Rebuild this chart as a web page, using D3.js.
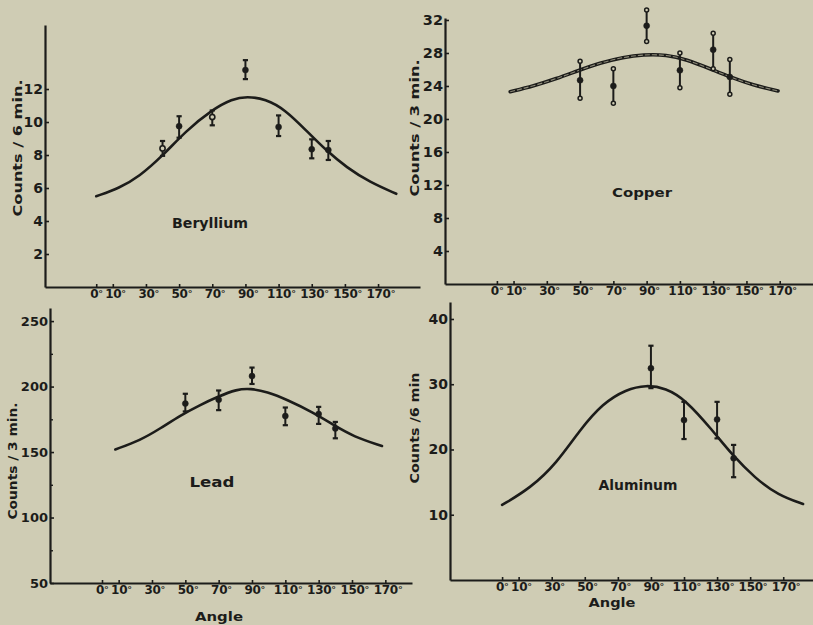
<!DOCTYPE html>
<html>
<head>
<meta charset="utf-8">
<script src="https://cdn.jsdelivr.net/npm/d3@7"></script>
<style>
  html, body { margin: 0; padding: 0; background: #cfccb4; }
  svg { display: block; }
  text { font-family: "DejaVu Sans", sans-serif; font-weight: bold; fill: #1c1c1a; }
</style>
</head>
<body>
<svg id="chart" width="813" height="625"></svg>
<script>
// Scattering angle ticks shared by all four panels (degrees)
const angleTicks = [0, 10, 30, 50, 70, 90, 110, 130, 150, 170];

// Beryllium: fitted curve [angle, counts] and measured points with error limits
const berylliumCurve = [[0, 5.5], [14, 6.0], [26, 6.7], [40, 7.95], [54, 9.45], [70, 10.75], [82, 11.4],
  [91, 11.55], [102, 11.4], [114, 10.75], [127, 9.45], [139, 8.25], [151, 7.25], [165, 6.35], [181, 5.65]];
const berylliumAngles = [40, 50, 70, 90, 110, 130, 140];
const berylliumCounts = [8.4, 9.75, 10.3, 13.15, 9.7, 8.35, 8.3];
const berylliumLow    = [7.95, 9.05, 9.8, 12.6, 9.15, 7.8, 7.7];
const berylliumHigh   = [8.85, 10.35, 10.7, 13.75, 10.4, 8.95, 8.85];
const berylliumOpen   = [true, false, true, false, false, false, false];
const berylliumTicks  = [2, 4, 6, 8, 10, 12];

// Copper
const copperCurve = [[8, 23.3], [22, 24.0], [36, 24.9], [48, 25.8], [62, 26.8], [76, 27.5], [88, 27.8],
  [102, 27.8], [114, 27.2], [128, 26.1], [140, 25.1], [154, 24.1], [169, 23.4]];
const copperAngles = [50, 70, 90, 110, 130, 140];
const copperCounts = [24.7, 24.0, 31.3, 25.9, 28.4, 25.1];
const copperLow    = [22.5, 21.9, 29.4, 23.8, 26.1, 23.0];
const copperHigh   = [27.0, 26.1, 33.2, 28.0, 30.4, 27.2];
const copperOpen   = [false, false, false, false, false, false];
const copperTicks  = [4, 8, 12, 16, 20, 24, 28, 32];

// Lead
const leadCurve = [[8, 152], [23, 159], [35, 168], [47, 178], [59, 186], [69, 192], [81, 198],
  [89, 198.6], [99, 196], [111, 190], [127, 180], [139, 170.6], [151, 161.7], [168, 154.6]];
const leadAngles = [50, 70, 90, 110, 130, 140];
const leadCounts = [187, 190, 208, 177.5, 179, 168];
const leadLow    = [181, 182, 202, 170.5, 171.5, 160.5];
const leadHigh   = [194.5, 197, 214.5, 184, 184.5, 173];
const leadOpen   = [false, false, false, false, false, false];
const leadTicks  = [50, 100, 150, 200, 250];
const leadMinorTicks = [75, 125, 175, 225];

// Aluminum
const aluminumCurve = [[0, 11.5], [17, 14.05], [33, 17.9], [47, 23.0], [61, 27.1], [75, 29.2], [87, 29.9],
  [99, 29.4], [111, 27.6], [127, 23.0], [139, 19.2], [153, 15.6], [167, 13.0], [182, 11.65]];
const aluminumAngles = [90, 110, 130, 140];
const aluminumCounts = [32.45, 24.5, 24.6, 18.65];
const aluminumLow    = [29.4, 21.6, 21.7, 15.75];
const aluminumHigh   = [35.9, 27.3, 27.3, 20.7];
const aluminumOpen   = [false, false, false, false];
const aluminumTicks  = [10, 20, 30, 40];

const INK = "#1c1c1a";
const PAPER = "#cfccb4";

const panels = [
  {
    title: "Beryllium", yLabel: "Counts / 6 min.", angleLabel: null,
    curve: berylliumCurve, angles: berylliumAngles, counts: berylliumCounts,
    low: berylliumLow, high: berylliumHigh, open: berylliumOpen,
    yTicks: berylliumTicks, yMinor: [], caps: "bar", hollow: false,
    xDomain: [-30.9, 195.3], xRange: [45, 420], yDomain: [0, 15.88], yRange: [287, 25],
    tickFont: 14, titlePos: [210, 228, 76, 14], yLabelPos: [17, 148, 137, 13]
  },
  {
    title: "Copper", yLabel: "Counts / 3 min.", angleLabel: null,
    curve: copperCurve, angles: copperAngles, counts: copperCounts,
    low: copperLow, high: copperHigh, open: copperOpen,
    yTicks: copperTicks, yMinor: [], caps: "ring", hollow: true,
    xDomain: [-31.2, 190], xRange: [445, 813], yDomain: [0, 32.24], yRange: [284, 18],
    tickFont: 14.5, titlePos: [642, 197, 60, 13], yLabelPos: [414, 128, 137, 13]
  },
  {
    title: "Lead", yLabel: "Counts / 3 min.", angleLabel: [219, 621, 48, 13],
    curve: leadCurve, angles: leadAngles, counts: leadCounts,
    low: leadLow, high: leadHigh, open: leadOpen,
    yTicks: leadTicks, yMinor: leadMinorTicks, caps: "bar", hollow: false,
    xDomain: [-31.2, 186], xRange: [50, 412], yDomain: [50, 260], yRange: [583, 308],
    tickFont: 13, titlePos: [212, 487, 45, 14], yLabelPos: [13, 461, 117, 12]
  },
  {
    title: "Aluminum", yLabel: "Counts /6 min", angleLabel: [612, 607, 47, 13],
    curve: aluminumCurve, angles: aluminumAngles, counts: aluminumCounts,
    low: aluminumLow, high: aluminumHigh, open: aluminumOpen,
    yTicks: aluminumTicks, yMinor: [], caps: "bar", hollow: false,
    xDomain: [-31.5, 188], xRange: [450, 813], yDomain: [0, 42.6], yRange: [580, 302],
    tickFont: 14, titlePos: [638, 490, 79, 14], yLabelPos: [415, 428, 111, 12]
  }
];

const svg = d3.select("#chart");
svg.append("rect").attr("width", 813).attr("height", 625).attr("fill", PAPER);

function drawPanel(p) {
  const g = svg.append("g");
  const x = d3.scaleLinear().domain(p.xDomain).range(p.xRange);
  const y = d3.scaleLinear().domain(p.yDomain).range(p.yRange);

  // angle axis along the bottom, short ticks pointing up
  const xAxis = g.append("g")
    .attr("transform", `translate(0,${p.yRange[0]})`)
    .call(d3.axisBottom(x).tickValues(angleTicks).tickSizeInner(-3).tickSizeOuter(0).tickPadding(2));
  xAxis.select(".domain").attr("stroke", INK).attr("stroke-width", 2.2);
  xAxis.selectAll(".tick line").attr("stroke", INK).attr("stroke-width", 1.6);
  xAxis.selectAll(".tick text").each(function (d) {
    const t = d3.select(this);
    t.text(null).attr("fill", INK).attr("font-size", 12).attr("text-anchor", "start")
      .attr("letter-spacing", -0.3)
      .style("font-family", '"DejaVu Sans", sans-serif').style("font-weight", "bold");
    const num = t.append("tspan").text(d);
    const w = num.node().getComputedTextLength();
    // the zero label is nudged left so its degree mark clears the 10° label
    t.attr("x", -w / 2 - (d === 0 ? 2.5 : 0));
    t.append("tspan").text("°").attr("font-size", 9.5).attr("dy", "-0.1em");
  });

  // counts axis along the left, ticks pointing into the plot
  const yAxis = g.append("g")
    .attr("transform", `translate(${p.xRange[0]},0)`)
    .call(d3.axisLeft(y).tickValues(p.yTicks).tickSizeInner(-4).tickSizeOuter(0).tickPadding(2));
  yAxis.select(".domain").attr("stroke", INK).attr("stroke-width", 2.2);
  yAxis.selectAll(".tick line").attr("stroke", INK).attr("stroke-width", 1.6);
  yAxis.selectAll(".tick text").attr("fill", INK).attr("font-size", p.tickFont)
    .style("font-family", '"DejaVu Sans", sans-serif').style("font-weight", "bold");

  if (p.yMinor.length) {
    const minor = g.append("g")
      .attr("transform", `translate(${p.xRange[0]},0)`)
      .call(d3.axisLeft(y).tickValues(p.yMinor).tickSizeInner(-3).tickSizeOuter(0).tickFormat(""));
    minor.select(".domain").remove();
    minor.selectAll(".tick line").attr("stroke", INK).attr("stroke-width", 1.4);
  }

  // fitted angular distribution, drawn as a smooth B-spline through the sampled points
  const line = d3.line().x(d => x(d[0])).y(d => y(d[1])).curve(d3.curveBasis);
  if (p.hollow) {
    g.append("path").attr("d", line(p.curve)).attr("fill", "none")
      .attr("stroke", INK).attr("stroke-width", 3.6).attr("stroke-linecap", "round");
    g.append("path").attr("d", line(p.curve)).attr("fill", "none")
      .attr("stroke", "#8d8a78").attr("stroke-width", 1.1).attr("stroke-dasharray", "5 2");
  } else {
    g.append("path").attr("d", line(p.curve)).attr("fill", "none")
      .attr("stroke", INK).attr("stroke-width", 2.6).attr("stroke-linecap", "round");
  }

  // measured points with statistical error bars
  p.angles.forEach((a, i) => {
    const cx = x(a), y0 = y(p.low[i]), y1 = y(p.high[i]);
    g.append("line").attr("x1", cx).attr("x2", cx).attr("y1", y0).attr("y2", y1)
      .attr("stroke", INK).attr("stroke-width", 2);
    [y0, y1].forEach(cy => {
      if (p.caps === "ring") {
        g.append("circle").attr("cx", cx).attr("cy", cy).attr("r", 2)
          .attr("fill", PAPER).attr("stroke", INK).attr("stroke-width", 1.5);
      } else {
        g.append("line").attr("x1", cx - 2.6).attr("x2", cx + 2.6).attr("y1", cy).attr("y2", cy)
          .attr("stroke", INK).attr("stroke-width", 2.2);
      }
    });
    const open = p.open[i];
    g.append("circle").attr("cx", cx).attr("cy", y(p.counts[i])).attr("r", open ? 2.6 : 3)
      .attr("fill", open ? PAPER : INK).attr("stroke", INK).attr("stroke-width", open ? 1.6 : 0.5);
  });

  // element name
  const [tx, ty, tl, ts] = p.titlePos;
  g.append("text").attr("x", tx).attr("y", ty).attr("text-anchor", "middle")
    .attr("font-size", ts).attr("textLength", tl).attr("lengthAdjust", "spacingAndGlyphs")
    .text(p.title);

  // rotated count-rate label
  const [lx, ly, ll, ls] = p.yLabelPos;
  g.append("text").attr("transform", `translate(${lx},${ly}) rotate(-90)`)
    .attr("text-anchor", "middle").attr("dy", "0.36em").attr("font-size", ls)
    .attr("textLength", ll).attr("lengthAdjust", "spacingAndGlyphs")
    .text(p.yLabel);

  if (p.angleLabel) {
    const [ax, ay, al, as] = p.angleLabel;
    g.append("text").attr("x", ax).attr("y", ay).attr("text-anchor", "middle")
      .attr("font-size", as).attr("textLength", al).attr("lengthAdjust", "spacingAndGlyphs")
      .text("Angle");
  }
}

panels.forEach(drawPanel);
</script>
</body>
</html>
